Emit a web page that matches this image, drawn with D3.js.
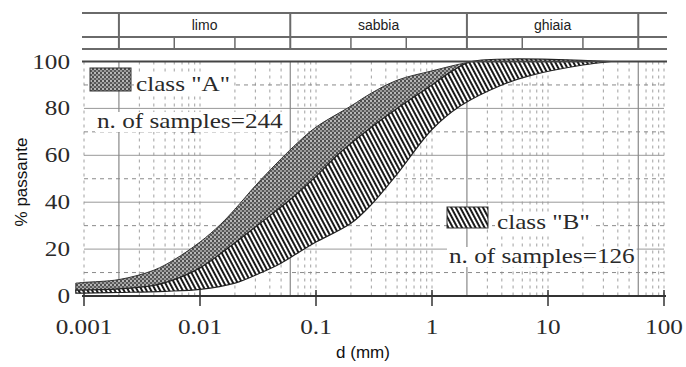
<!DOCTYPE html>
<html>
<head>
<meta charset="utf-8">
<script src="https://cdn.jsdelivr.net/npm/d3@7"></script>
<style>
  body { margin: 0; background: #fff; }
  svg { display: block; }
</style>
</head>
<body>
<div id="chart"></div>
<script>
// grain size classes shown in the header strip
const sizeClasses = ["limo", "sabbia", "ghiaia"];
const classBounds = [0.002, 0.06, 2, 60];
const subBounds = [0.006, 0.02, 0.2, 0.6, 6, 20];

const xTicks = [0.001, 0.01, 0.1, 1, 10, 100];
const yTicks = [0, 20, 40, 60, 80, 100];
const yMinor = [10, 30, 50, 70, 90];

// envelopes, [d (mm), % passante]
const classAUpper = [[0.00085, 5.5], [0.001, 5.8], [0.002, 7], [0.004, 11], [0.006, 15.5], [0.01, 23],
  [0.015, 30.5], [0.02, 37], [0.03, 47], [0.05, 58.5], [0.07, 65.5], [0.1, 72], [0.2, 81],
  [0.3, 86.5], [0.5, 92], [1, 96], [2, 99.5], [2.5, 100]];
const classALower = [[0.00085, 2], [0.002, 2.5], [0.01, 8], [0.033, 20], [0.1, 38], [0.3, 55],
  [1, 78], [2, 95], [2.5, 100]];
const classBUpper = [[0.00085, 2.5], [0.002, 3], [0.004, 4.5], [0.006, 7], [0.01, 12], [0.017, 20],
  [0.033, 31], [0.063, 42], [0.1, 51], [0.16, 61], [0.3, 72], [0.5, 80], [1, 90], [1.5, 96],
  [2.2, 100], [35, 100]];
const classBLower = [[0.00085, 1.2], [0.001, 1.2], [0.002, 1.5], [0.005, 2], [0.01, 2.8], [0.02, 5.5],
  [0.033, 9.8], [0.05, 14], [0.073, 19], [0.1, 23], [0.2, 31], [0.3, 39], [0.5, 52], [1, 71],
  [1.75, 81], [4, 90], [7, 94], [20, 98.5], [35, 100]];

const legendA = ['class "A"', "n. of samples=244"];
const legendB = ['class "B"', "n. of samples=126"];

const SERIF = '"Liberation Serif"';
const SANS = '"Liberation Sans"';

const W = 686, H = 367;
const svg = d3.select("#chart").append("svg").attr("width", W).attr("height", H);

const x = d3.scaleLog().domain([0.001, 100]).range([84, 664]);
const y = d3.scaleLinear().domain([0, 100]).range([296, 61.5]);

const defs = svg.append("defs");
let dots = defs.append("pattern").attr("id", "dots").attr("patternUnits", "userSpaceOnUse")
  .attr("width", 4).attr("height", 4);
dots.append("rect").attr("width", 4).attr("height", 4).attr("fill", "#9a9a9a");
dots.append("circle").attr("cx", 1).attr("cy", 1).attr("r", 1).attr("fill", "#333");
dots.append("circle").attr("cx", 3).attr("cy", 3).attr("r", 1).attr("fill", "#444");
dots.append("circle").attr("cx", 3).attr("cy", 1).attr("r", 0.7).attr("fill", "#eee");

let hatch = defs.append("pattern").attr("id", "hatch").attr("patternUnits", "userSpaceOnUse")
  .attr("width", 4).attr("height", 10).attr("patternTransform", "rotate(-28)");
hatch.append("rect").attr("width", 4).attr("height", 10).attr("fill", "#fff");
hatch.append("rect").attr("width", 2).attr("height", 10).attr("fill", "#1a1a1a");

// grid
const grid = svg.append("g");
let minorX = [];
for (let e = -3; e < 2; e++)
  for (let k = 1; k <= 9; k++) minorX.push(k * Math.pow(10, e));
minorX.push(100);
minorX = minorX.filter(d => !classBounds.some(b => Math.abs(b - d) / d < 1e-6));

grid.selectAll(".vminor").data(minorX).enter().append("line")
  .attr("x1", d => x(d)).attr("x2", d => x(d))
  .attr("y1", y(100)).attr("y2", y(0))
  .attr("stroke", "#a0a0a0").attr("stroke-width", 1).attr("stroke-dasharray", "3,4");

grid.selectAll(".hminor").data(yMinor).enter().append("line")
  .attr("x1", x(0.001)).attr("x2", x(100))
  .attr("y1", d => y(d)).attr("y2", d => y(d))
  .attr("stroke", "#8a8a8a").attr("stroke-dasharray", "4,4");

grid.selectAll(".hmajor").data(yTicks.filter(d => d > 0 && d < 100)).enter().append("line")
  .attr("x1", x(0.001)).attr("x2", x(100))
  .attr("y1", d => y(d)).attr("y2", d => y(d))
  .attr("stroke", "#999");

grid.selectAll(".vclass").data(classBounds).enter().append("line")
  .attr("x1", d => x(d)).attr("x2", d => x(d))
  .attr("y1", y(100)).attr("y2", y(0))
  .attr("stroke", "#888").attr("stroke-width", 1.2);

// bands
const line = d3.line().x(d => x(d[0])).y(d => y(d[1])).curve(d3.curveCatmullRom.alpha(0.5));
function band(upper, lower) {
  let a = line(upper), b = line(lower.slice().reverse());
  return a + "L" + b.slice(1) + "Z";
}
svg.append("path").attr("d", band(classAUpper, classALower))
  .attr("fill", "url(#dots)").attr("stroke", "#333").attr("stroke-width", 1);
svg.append("path").attr("d", band(classBUpper, classBLower))
  .attr("fill", "url(#hatch)").attr("stroke", "#222").attr("stroke-width", 1.2);

// header strip
const head = svg.append("g").attr("stroke", "#6a6a6a").attr("stroke-width", 2);
[13, 37, 49].forEach(v => {
  head.append("line").attr("x1", 82).attr("x2", 667).attr("y1", v).attr("y2", v);
});
head.selectAll(".hb").data(classBounds).enter().append("line")
  .attr("x1", d => x(d)).attr("x2", d => x(d)).attr("y1", 13).attr("y2", 49);
head.selectAll(".hs").data(subBounds).enter().append("line")
  .attr("x1", d => x(d)).attr("x2", d => x(d)).attr("y1", 37).attr("y2", 49).attr("stroke-width", 1.5);

svg.selectAll(".cls").data(sizeClasses).enter().append("text")
  .attr("x", (d, i) => (x(classBounds[i]) + x(classBounds[i + 1])) / 2)
  .attr("y", 30)
  .attr("text-anchor", "middle")
  .style("font-family", SANS).style("font-size", "14px")
  .attr("fill", "#222")
  .text(d => d);

// top and bottom frame lines
svg.append("line").attr("x1", 82).attr("x2", 667).attr("y1", y(100)).attr("y2", y(100))
  .attr("stroke", "#444").attr("stroke-width", 2);
svg.append("line").attr("x1", 82).attr("x2", 666).attr("y1", y(0)).attr("y2", y(0))
  .attr("stroke", "#333").attr("stroke-width", 2);
svg.selectAll(".xt").data(xTicks).enter().append("line")
  .attr("x1", d => x(d)).attr("x2", d => x(d)).attr("y1", y(0) - 6).attr("y2", y(0) + 10)
  .attr("stroke", "#333").attr("stroke-width", 1.5);

// serif labels, widened like the scanned original
function serif(parent, px, py, str, anchor, bg) {
  let t = parent.append("text").attr("x", px).attr("y", py).attr("text-anchor", anchor)
    .style("font-family", SERIF).style("font-size", "21px")
    .attr("fill", "#2a2a2a").text(str);
  let w = t.node().getComputedTextLength();
  t.attr("textLength", w * 1.2).attr("lengthAdjust", "spacingAndGlyphs");
  if (bg) {
    let b = t.node().getBBox();
    parent.insert("rect", () => t.node()).attr("x", b.x - 2).attr("y", b.y + 3)
      .attr("width", b.width + 4).attr("height", b.height - 4).attr("fill", "#fff");
  }
  return t;
}

const labels = svg.append("g");
xTicks.forEach(d => serif(labels, x(d), 334, d3.format("~g")(d), "middle"));
yTicks.forEach(d => serif(labels, 70, y(d) + 7, String(d), "end"));

// legend
const leg = svg.append("g");
leg.append("rect").attr("x", 90).attr("y", 68).attr("width", 41).attr("height", 23)
  .attr("fill", "url(#dots)").attr("stroke", "#333");
serif(leg, 136, 91, legendA[0], "start", true);
serif(leg, 97, 128, legendA[1], "start", true);

leg.append("rect").attr("x", 447).attr("y", 207).attr("width", 41).attr("height", 21)
  .attr("fill", "url(#hatch)").attr("stroke", "#333");
serif(leg, 497, 229, legendB[0], "start", true);
serif(leg, 449, 263, legendB[1], "start", true);

// axis titles
svg.append("text").attr("x", 363).attr("y", 358).attr("text-anchor", "middle")
  .style("font-family", SANS).style("font-size", "17px").attr("fill", "#111")
  .text("d (mm)");
svg.append("text").attr("transform", "translate(27,182) rotate(-90)")
  .attr("text-anchor", "middle")
  .style("font-family", SANS).style("font-size", "17px").attr("fill", "#111")
  .text("% passante");
</script>
</body>
</html>
